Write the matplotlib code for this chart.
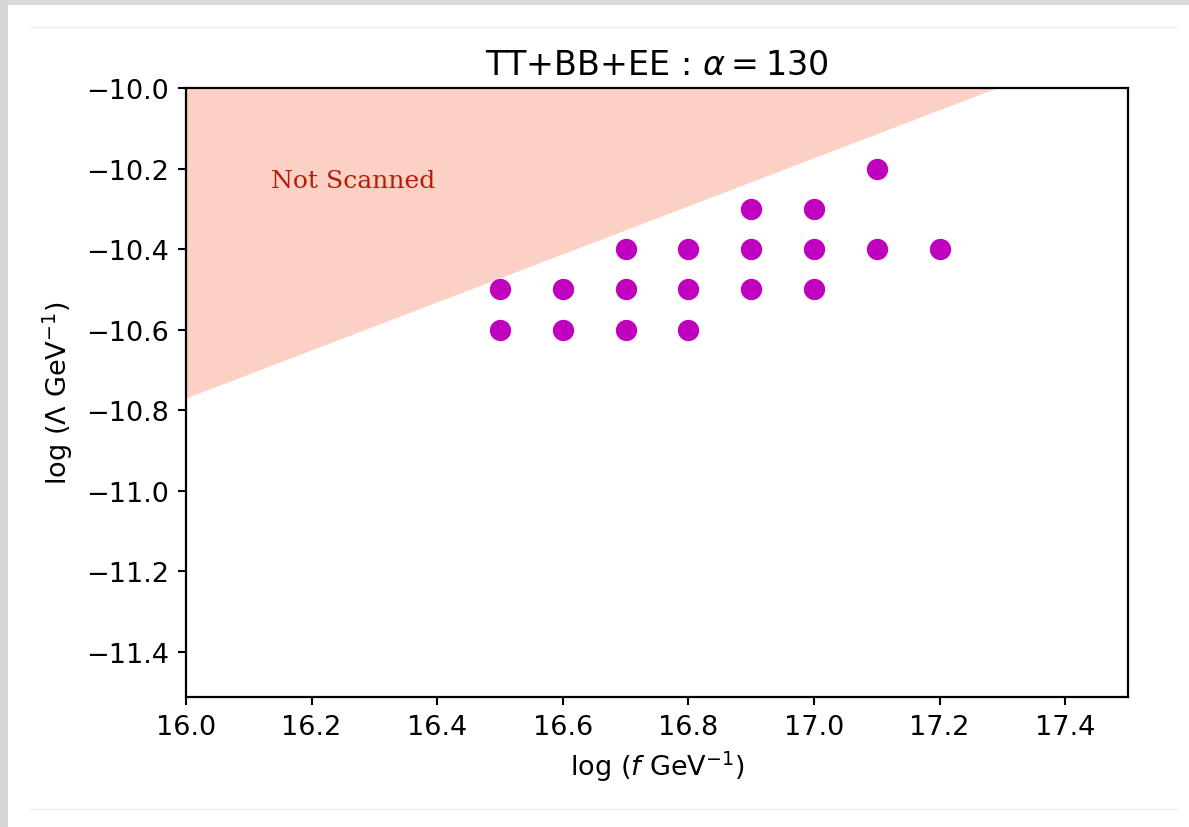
import numpy as np
import matplotlib
matplotlib.use("Agg")
import matplotlib.pyplot as plt
from matplotlib.lines import Line2D
from matplotlib.patches import Rectangle

# scanned points
log_f = [16.5, 16.5, 16.6, 16.6, 16.7, 16.7, 16.7, 16.8, 16.8, 16.8,
         16.9, 16.9, 16.9, 17.0, 17.0, 17.0, 17.1, 17.1, 17.2]
log_lam = [-10.5, -10.6, -10.5, -10.6, -10.4, -10.5, -10.6, -10.4, -10.5, -10.6,
           -10.3, -10.4, -10.5, -10.3, -10.4, -10.5, -10.2, -10.4, -10.4]

# boundary of the not-scanned region
edge_x = [16.0, 17.29]
edge_y = [-10.77, -10.0]

fig = plt.figure(figsize=(11.89, 8.28), dpi=100)
ax = fig.add_axes([0.1564, 0.157, 0.7923, 0.7355])

ax.fill_between(edge_x, edge_y, -10.0, color="#fcd1c5", lw=0)
ax.scatter(log_f, log_lam, s=205, c="m", zorder=3)
ax.text(16.135, -10.23, "Not Scanned", color="#b81c08", fontsize=18,
        family="DejaVu Serif", va="center")

ax.set_xlim(16.0, 17.5)
ax.set_ylim(-11.513, -10.0)
ax.set_xticks(np.arange(16.0, 17.41, 0.2))
ax.set_yticks(np.arange(-11.4, -9.99, 0.2))
ax.tick_params(labelsize=19.5, width=1.5, length=6, pad=6)
for s in ax.spines.values():
    s.set_linewidth(1.6)

ax.set_title(r"TT+BB+EE : $\alpha = 130$", fontsize=24, pad=10)
ax.set_xlabel(r"$\log\,(f\ \mathrm{GeV}^{-1})$", fontsize=19.5, labelpad=6)
ax.set_ylabel(r"$\log\,(\Lambda\ \mathrm{GeV}^{-1})$", fontsize=19.5, labelpad=8)

# screenshot frame
fig.add_artist(Rectangle((0, 1 - 6 / 828), 1, 6 / 828, transform=fig.transFigure,
                         color="#dcdcdc", lw=0))
fig.add_artist(Rectangle((0, 0), 8 / 1189, 1, transform=fig.transFigure,
                         color="#d6d6d6", lw=0))
fig.add_artist(Line2D([30 / 1189, 1177 / 1189], [1 - 28 / 828] * 2,
                      transform=fig.transFigure, color="#eeeeee", lw=1))
fig.add_artist(Line2D([30 / 1189, 1177 / 1189], [1 - 810 / 828] * 2,
                      transform=fig.transFigure, color="#eeeeee", lw=1))

fig.savefig("out.png", dpi=100)
